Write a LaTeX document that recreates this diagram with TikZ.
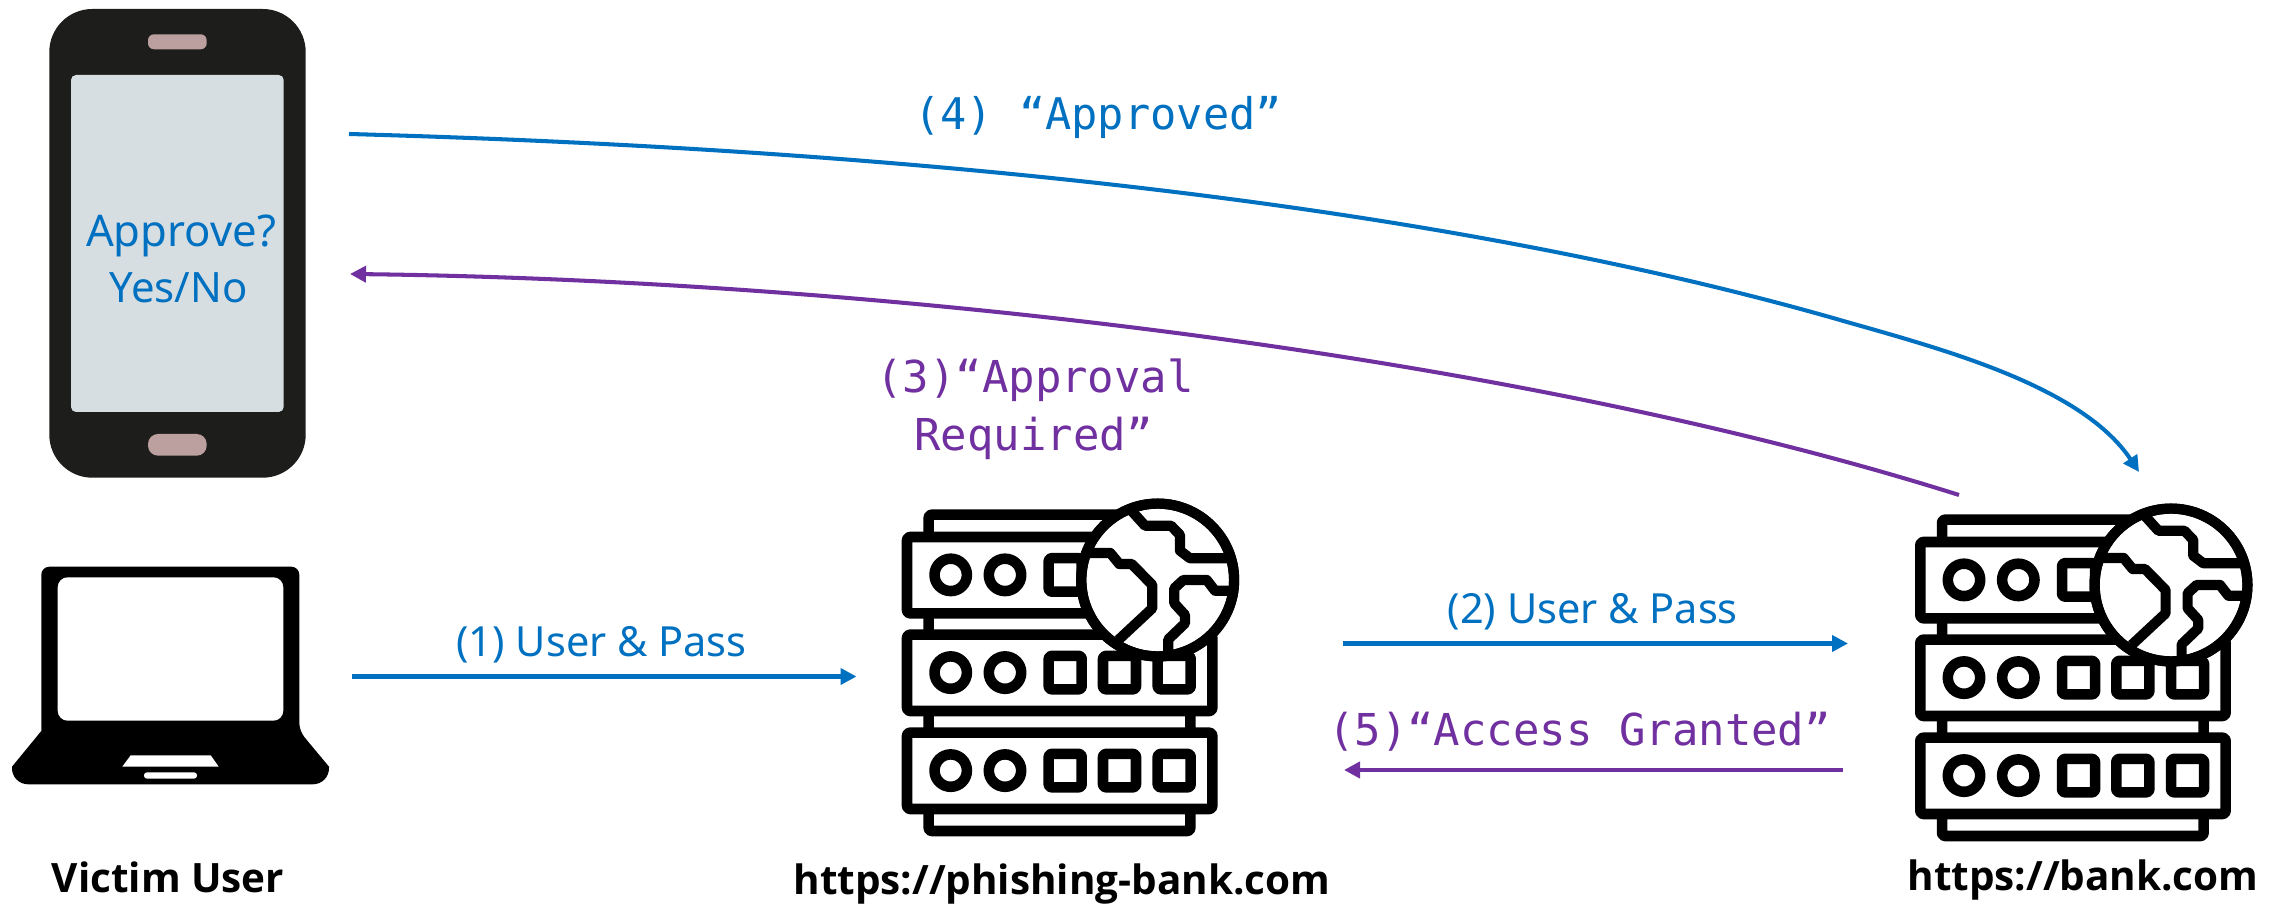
\documentclass[tikz,border=0pt]{standalone}
\usepackage{fontspec}
\setmainfont{Noto Sans}
\newfontfamily\monolabel{DejaVu Sans Mono}
\newfontfamily\capfont{Open Sans}
\usetikzlibrary{arrows.meta}
\definecolor{flowblue}{HTML}{0070C0}
\definecolor{flowpurple}{HTML}{7030A0}
\definecolor{phonebody}{HTML}{1D1D1B}
\definecolor{phonescreen}{HTML}{D7DEE2}
\definecolor{phonebtn}{HTML}{BBA09F}
\tikzset{
  x=0.01cm,y=-0.01cm,
  sflow/.style={line width=1.15pt},
  tipstyle/.style={-{Triangle[length=0.16cm,width=0.16cm]}},
  blueflow/.style={sflow,tipstyle,draw=flowblue},
  purpleflow/.style={sflow,tipstyle,draw=flowpurple},
  sanslabel/.style={inner sep=0pt,anchor=base,font=\fontsize{11.8pt}{16pt}\selectfont,text=flowblue},
  screenlabel/.style={inner sep=0pt,anchor=base,font=\fontsize{12.4pt}{16pt}\selectfont,text=flowblue},
  monoblue/.style={inner sep=0pt,anchor=base,font=\monolabel\fontsize{12.4pt}{16.5pt}\selectfont,text=flowblue},
  monopurple/.style={inner sep=0pt,anchor=base,font=\monolabel\fontsize{12.5pt}{16.5pt}\selectfont,text=flowpurple,align=center},
  caption/.style={inner sep=0pt,anchor=base,font=\capfont\bfseries\fontsize{11.5pt}{16pt}\selectfont,text=black},
  rack/.style={line width=3pt,draw=black,line join=round,rounded corners=0.8pt},
  rackpart/.style={line width=3pt,draw=black,fill=white,line join=round},
  globeline/.style={line width=2.9pt,draw=black,line join=round},
  servericon/.pic={
    % back strips
    \draw[rack] (928.7,514.7) rectangle (1190.3,831);
    \foreach \ry in {537,634.7,732.7}{
      \draw[rack,fill=white] (907,\ry) rectangle (1212.3,\ry+76.3);
      \draw[rackpart] (950.7,\ry+37.9) circle (16.2);
      \draw[rackpart] (1005,\ry+37.9) circle (16.2);
      \foreach \sx in {1048.7,1103,1157.7}{
        \draw[rack] (\sx,\ry+21.2) rectangle (\sx+33,\ry+54.6);
      }
    }
    \draw[globeline,fill=white] (1157.7,580) circle (76.4);
    \begin{scope}
      \clip (1157.7,580) circle (76.4);
      \draw[globeline] (1084,553) -- (1110.3,553) -- (1119.3,564) -- (1131.7,564) -- (1152.3,585) -- (1152.3,608.3) -- (1118.3,640);
      \draw[globeline] (1129,508) -- (1145,525.7) -- (1171,525.7) -- (1180,535) -- (1180,550.7) -- (1190,558.3) -- (1240,558.3);
      \draw[globeline] (1240,590.7) -- (1215,590.7) -- (1206.7,580) -- (1183.3,580) -- (1174.3,588.3) -- (1174.3,603.3) -- (1185,615) -- (1185,623.3) -- (1168.3,639.3) -- (1168.3,665);
    \end{scope}
    \draw[globeline] (1157.7,580) circle (76.4);
  }
}
\begin{document}
\begin{tikzpicture}
\useasboundingbox (0,0) rectangle (2285,904);
% phone
\fill[phonebody,rounded corners=0.43cm] (49.3,9) rectangle (305.7,477.7);
\fill[phonescreen,rounded corners=0.05cm] (71,75) rectangle (283.7,412);
\fill[phonebtn,rounded corners=0.06cm] (148,34.3) rectangle (206.7,49.3);
\fill[phonebtn,rounded corners=0.1cm] (148,434) rectangle (206.7,455.7);
\node[screenlabel] (approve) at (181,246.7) {Approve?};
\node[sanslabel,font=\fontsize{11.9pt}{16pt}\selectfont] (yesno) at (178.5,303) {Yes/No};
% laptop
\fill[black,even odd rule,rounded corners=0.08cm]
  (41.3,731) -- (41.3,566.7) -- (299.3,566.7) -- (299.3,731) [sharp corners] -- (329,766.7)
  [rounded corners=0.16cm] -- (329,784.3) -- (12,784.3) [sharp corners] -- (12,766.7) -- cycle;
\fill[white,rounded corners=0.1cm] (57.7,577.3) rectangle (283.3,720.7);
\fill[white] (130.7,755.3) -- (210.7,755.3) -- (218.7,766.7) -- (122.3,766.7) -- cycle;
\fill[white,rounded corners=0.03cm] (144,772.3) rectangle (197,778.7);
\node[caption] (victim) at (168,892.7) {Victim User};
% servers
\pic (phish) at (0,0) {servericon};
\pic (bank) at (1013.3,5) {servericon};
\node[caption] (phishlabel) at (1062,895) {https://phishing-bank.com};
\node[caption] (banklabel) at (2083,890) {https://bank.com};
% connector ends
\coordinate (c1a) at (352,676.5); \coordinate (c1b) at (856.5,676.5);
\coordinate (c2a) at (1343,643.5); \coordinate (c2b) at (1848,643.5);
\coordinate (c5a) at (1842.5,770); \coordinate (c5b) at (1344,770);
\coordinate (c4a) at (349,134); \coordinate (c4m) at (1833,318); \coordinate (c4b) at (2139,472);
\coordinate (c3a) at (1959,495); \coordinate (c3b) at (350,274);
\draw[blueflow] (c1a) -- (c1b);
\draw[blueflow] (c2a) -- (c2b);
\draw[purpleflow] (c5a) -- (c5b);
\draw[blueflow] (c4a) .. controls (850,148) and (1400,195) .. (c4m) .. controls (1929.5,346) and (2079.5,382.7) .. (c4b);
\draw[purpleflow] (c3a) .. controls (1500,350) and (850,280) .. (c3b);
% labels
\node[sanslabel] (l1) at (601.5,656.8) {(1) User \& Pass};
\node[sanslabel] (l2) at (1592.7,623.5) {(2) User \& Pass};
\node[monoblue] (l4) at (1098,130) {(4) “Approved”};
\node[monopurple] (l3a) at (1035,392.7) {(3)“Approval};
\node[monopurple] (l3b) at (1033.5,450.7) {Required”};
\node[monopurple] (l5) at (1579.5,746) {(5)“Access Granted”};
\end{tikzpicture}
\end{document}
